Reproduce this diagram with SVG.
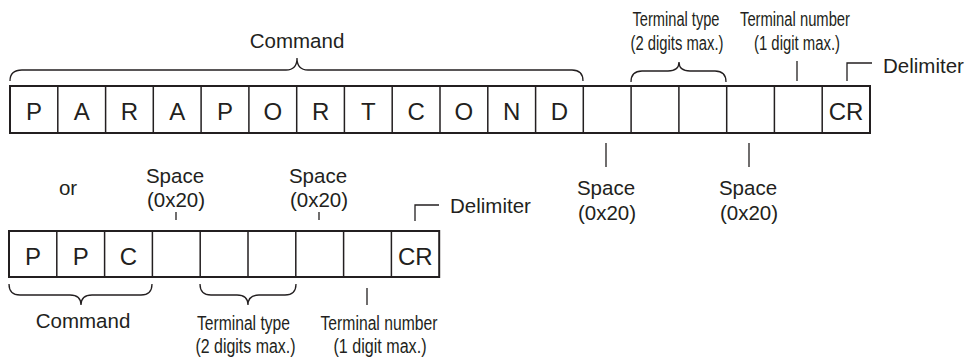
<svg xmlns="http://www.w3.org/2000/svg" width="971" height="363" viewBox="0 0 971 363">
<style>
.bg{fill:#fff}
.box{fill:#fff;stroke:#231f20;stroke-width:2}
.sep{stroke:#231f20;stroke-width:1.5;fill:none}
.ln{stroke:#231f20;stroke-width:1.3;fill:none}
.ch{font-family:"Liberation Sans",Arial,sans-serif;font-size:24px;fill:#231f20;text-anchor:middle}
.lb{font-family:"Liberation Sans",Arial,sans-serif;font-size:20.5px;fill:#231f20;text-anchor:middle}
.lbs{font-family:"Liberation Sans",Arial,sans-serif;font-size:20.5px;fill:#231f20}
.nc{font-family:"Liberation Sans Narrow","Liberation Sans",Arial,sans-serif;font-size:19.5px;fill:#231f20;text-anchor:middle}
</style>
<rect class="bg" x="0" y="0" width="971" height="363"/>
<g id="row1">
<rect class="box" x="10" y="86" width="860" height="47"/>
<path class="sep" d="M57.8,86V133M105.6,86V133M153.3,86V133M201.1,86V133M248.9,86V133M296.7,86V133M344.4,86V133M392.2,86V133M440,86V133M487.8,86V133M535.6,86V133M583.3,86V133M631.1,86V133M678.9,86V133M726.7,86V133M774.4,86V133M822.2,86V133"/>
<text class="ch" x="33.9" y="120">P</text>
<text class="ch" x="81.7" y="120">A</text>
<text class="ch" x="129.4" y="120">R</text>
<text class="ch" x="177.2" y="120">A</text>
<text class="ch" x="225" y="120">P</text>
<text class="ch" x="272.8" y="120">O</text>
<text class="ch" x="320.6" y="120">R</text>
<text class="ch" x="368.3" y="120">T</text>
<text class="ch" x="416.1" y="120">C</text>
<text class="ch" x="463.9" y="120">O</text>
<text class="ch" x="511.7" y="120">N</text>
<text class="ch" x="559.4" y="120">D</text>
<text class="ch" x="846.1" y="120">CR</text>
</g>
<g id="row2">
<rect class="box" x="9" y="231" width="430.2" height="46"/>
<path class="sep" d="M56.8,231V277M104.6,231V277M152.4,231V277M200.2,231V277M248,231V277M295.8,231V277M343.6,231V277M391.4,231V277"/>
<text class="ch" x="32.9" y="265">P</text>
<text class="ch" x="80.7" y="265">P</text>
<text class="ch" x="128.5" y="265">C</text>
<text class="ch" x="415.3" y="265">CR</text>
</g>
<g id="connectors">
<path class="ln" d="M10,81 Q10,70 22,70 H286 Q297,70 297,58 Q297,70 308,70 H572 Q583,70 583,81"/>
<path class="ln" d="M631,82 Q631,71 642,71 H668 Q679,71 679,62 Q679,71 690,71 H715 Q726,71 726,82"/>
<path class="ln" d="M797,61V81"/>
<path class="ln" d="M847,81V63H872"/>
<path class="ln" d="M606,143V167"/>
<path class="ln" d="M749,143V167"/>
<path class="ln" d="M9,284 Q9,295 20,295 H70 Q81,295 81,305 Q81,295 92,295 H141 Q152,295 152,284"/>
<path class="ln" d="M200,284 Q200,295 211,295 H237 Q248,295 248,305 Q248,295 259,295 H285 Q296,295 296,284"/>
<path class="ln" d="M367,288V305"/>
<path class="ln" d="M176,212V220"/>
<path class="ln" d="M319,212V220"/>
<path class="ln" d="M415,221V205H439"/>
</g>
<g id="labels">
<text class="lb" x="297" y="48">Command</text>
<text class="nc" x="676" y="26" textLength="87" lengthAdjust="spacingAndGlyphs">Terminal type</text>
<text class="nc" x="677" y="50" textLength="93" lengthAdjust="spacingAndGlyphs">(2 digits max.)</text>
<text class="nc" x="795" y="26" textLength="110" lengthAdjust="spacingAndGlyphs">Terminal number</text>
<text class="nc" x="797" y="50" textLength="86" lengthAdjust="spacingAndGlyphs">(1 digit max.)</text>
<text class="lbs" x="883" y="73">Delimiter</text>
<text class="lb" x="606" y="195">Space</text>
<text class="lb" x="607" y="220">(0x20)</text>
<text class="lb" x="748" y="195">Space</text>
<text class="lb" x="749" y="220">(0x20)</text>
<text class="lb" x="68" y="195">or</text>
<text class="lb" x="175" y="183">Space</text>
<text class="lb" x="176" y="207">(0x20)</text>
<text class="lb" x="318" y="183">Space</text>
<text class="lb" x="319" y="207">(0x20)</text>
<text class="lbs" x="450" y="213">Delimiter</text>
<text class="lb" x="83" y="328">Command</text>
<text class="nc" x="243.5" y="330" textLength="93" lengthAdjust="spacingAndGlyphs">Terminal type</text>
<text class="nc" x="245.5" y="353" textLength="100" lengthAdjust="spacingAndGlyphs">(2 digits max.)</text>
<text class="nc" x="379" y="330" textLength="117" lengthAdjust="spacingAndGlyphs">Terminal number</text>
<text class="nc" x="380" y="353" textLength="93" lengthAdjust="spacingAndGlyphs">(1 digit max.)</text>
</g>
</svg>
